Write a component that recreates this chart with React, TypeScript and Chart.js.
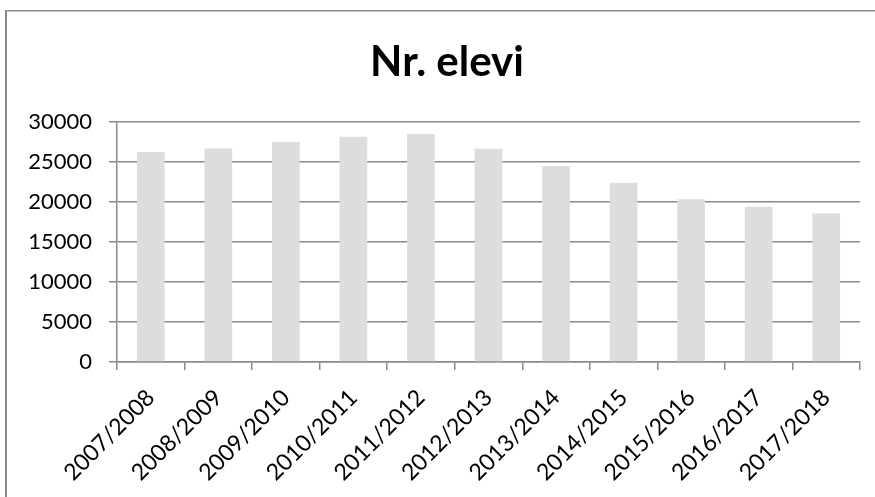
import React, { useEffect, useRef } from "react";
import { Chart, registerables } from "chart.js";

Chart.register(...registerables);

const categories = [
  "2007/2008", "2008/2009", "2009/2010", "2010/2011", "2011/2012", "2012/2013",
  "2013/2014", "2014/2015", "2015/2016", "2016/2017", "2017/2018",
];
const students = [26250, 26700, 27500, 28150, 28500, 26650, 24500, 22400, 20350, 19400, 18550];
const titleText = "Nr. elevi";
const yMin = 0;
const yMax = 30000;
const yStep = 5000;

const GRID = "#8a8a8a";

const framePlugin = {
  id: "frameAndTitle",
  beforeDraw(chart: any) {
    const ctx = chart.ctx;
    ctx.save();
    ctx.fillStyle = "#ffffff";
    ctx.fillRect(0, 0, chart.width, chart.height);
    ctx.fillStyle = "#8c8c8c";
    ctx.fillRect(5, 10, 2, chart.height - 10);
    ctx.fillRect(5, 10, chart.width - 5, 1.5);
    ctx.restore();
  },
  afterDraw(chart: any) {
    const ctx = chart.ctx;
    ctx.save();
    ctx.fillStyle = "#000000";
    ctx.font = "bold 42px Lato";
    ctx.textAlign = "center";
    ctx.textBaseline = "alphabetic";
    ctx.fillText(titleText, 447, 76);
    ctx.restore();
  },
};

export default function App() {
  const ref = useRef<HTMLCanvasElement | null>(null);
  useEffect(() => {
    document.body.style.margin = "0";
    if (!ref.current) return;
    const chart = new Chart(ref.current, {
      type: "bar",
      data: {
        labels: categories,
        datasets: [
          {
            label: titleText,
            data: students,
            backgroundColor: "#dddddd",
            borderWidth: 0,
            categoryPercentage: 1,
            barPercentage: 0.41,
          },
        ],
      },
      options: {
        responsive: false,
        animation: false,
        devicePixelRatio: 1,
        layout: { padding: { left: 0, right: 15, top: 122, bottom: 0 } },
        plugins: {
          legend: { display: false },
          title: { display: false },
          tooltip: { enabled: false },
        },
        scales: {
          x: {
            afterFit: (s: any) => {
              s.height = 135;
            },
            grid: {
              display: true,
              offset: true,
              drawOnChartArea: false,
              drawTicks: true,
              tickLength: 8,
              color: GRID,
              lineWidth: 1.5,
            },
            border: { display: true, color: GRID, width: 1.5 },
            ticks: {
              minRotation: 45,
              maxRotation: 45,
              autoSkip: false,
              labelOffset: 0,
              padding: 14,
              color: "#000000",
              font: { family: "Lato", size: 23 },
            },
          },
          y: {
            min: yMin,
            max: yMax,
            afterFit: (s: any) => {
              s.width = 117;
            },
            grid: {
              display: true,
              drawOnChartArea: true,
              drawTicks: true,
              tickLength: 8,
              color: GRID,
              lineWidth: 1.5,
            },
            border: { display: true, color: GRID, width: 1.5 },
            ticks: {
              stepSize: yStep,
              padding: 17,
              color: "#000000",
              font: { family: "Lato", size: 22 },
              callback: (v: any) => String(v),
            },
          },
        },
      },
      plugins: [framePlugin],
    });
    return () => chart.destroy();
  }, []);
  return (
    <div style={{ width: 875, height: 497 }}>
      <canvas ref={ref} width={875} height={497} style={{ display: "block", width: 875, height: 497 }} />
    </div>
  );
}
